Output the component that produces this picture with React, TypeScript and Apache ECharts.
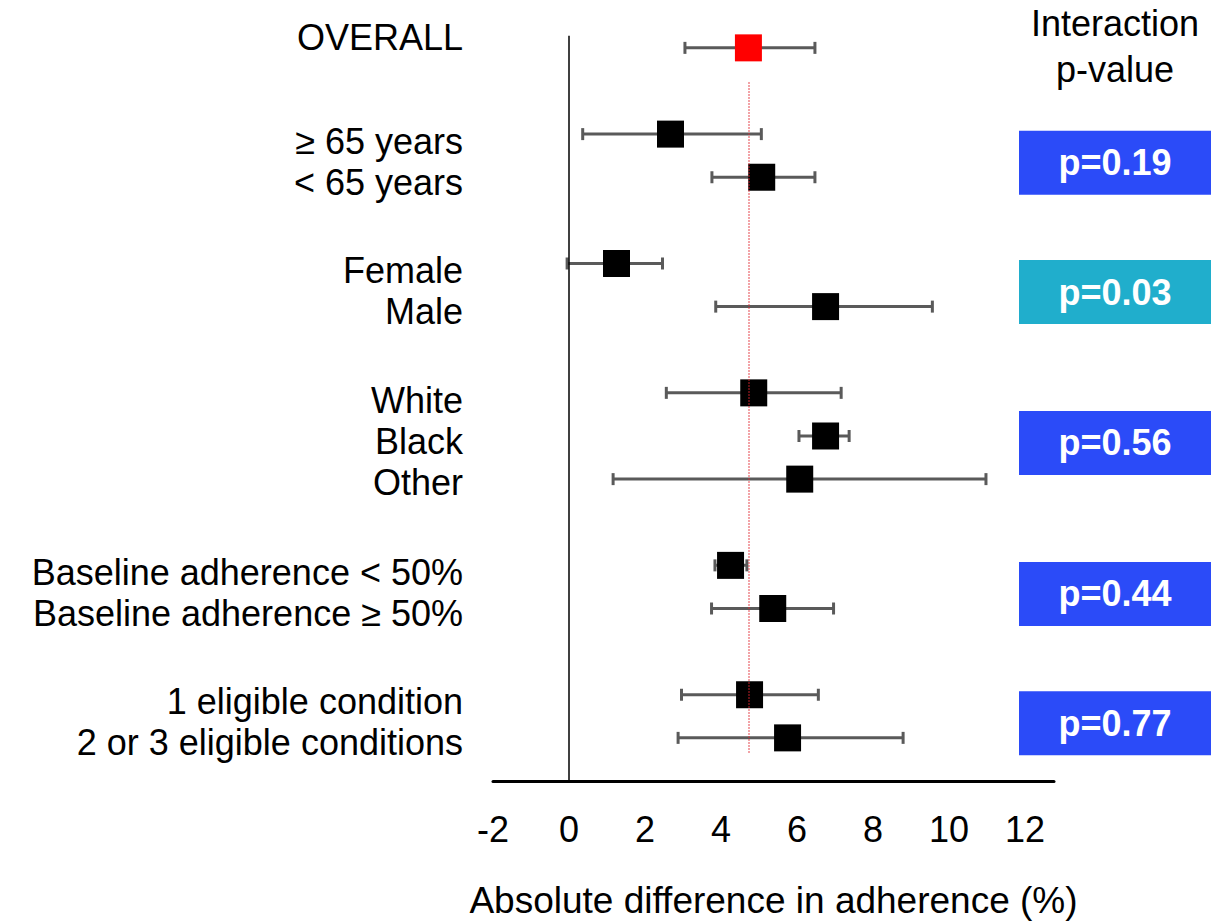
import React, { useEffect, useRef } from "react";
import * as echarts from "echarts";

// ---- Data ----
const rowLabels = [
  "OVERALL",
  "≥ 65 years",
  "< 65 years",
  "Female",
  "Male",
  "White",
  "Black",
  "Other",
  "Baseline adherence < 50%",
  "Baseline adherence ≥ 50%",
  "1 eligible condition",
  "2 or 3 eligible conditions",
];
const groupSizes = [1, 2, 2, 3, 2, 2];
const estimates = [4.72, 2.67, 5.07, 1.25, 6.75, 4.86, 6.75, 6.07, 4.25, 5.36, 4.75, 5.75];
const lowerCI = [3.05, 0.36, 3.76, -0.05, 3.86, 2.56, 6.05, 1.16, 3.84, 3.75, 2.96, 2.87];
const upperCI = [6.47, 5.06, 6.47, 2.46, 9.56, 7.16, 7.37, 10.97, 4.68, 6.96, 6.56, 8.79];
const interactionP = [0.19, 0.03, 0.56, 0.44, 0.77];
const xAxisTitle = "Absolute difference in adherence (%)";
const pHeader = "Interaction\np-value";

const FONT = "'Liberation Sans', Arial, sans-serif";

// row index of each estimate: one blank row between groups
const rowIndex: number[] = [];
const groupOf: number[] = [];
{
  let i = 0;
  groupSizes.forEach((n, g) => {
    for (let k = 0; k < n; k++) {
      rowIndex.push(i + g);
      groupOf.push(g);
      i++;
    }
  });
}
const groupCenters = groupSizes.map((_, g) => {
  const rs = rowIndex.filter((_, i) => groupOf[i] === g);
  return rs.reduce((a, b) => a + b, 0) / rs.length;
});
const groupTexts = groupSizes.map((_, g) =>
  rowLabels.filter((_, i) => groupOf[i] === g).join("\n")
);
const lastRow = rowIndex[rowIndex.length - 1];

export default function App() {
  const ref = useRef<HTMLDivElement>(null);
  useEffect(() => {
    if (!ref.current) return;
    const chart = echarts.init(ref.current, undefined, { renderer: "svg", width: 1212, height: 924 });
    const overall = estimates[0];
    const option: any = {
      animation: false,
      backgroundColor: "#ffffff",
      textStyle: { fontFamily: FONT },
      grid: { left: 493, width: 561, top: 26.3, height: 760.7, containLabel: false },
      xAxis: {
        type: "value",
        min: -2,
        max: 12.76,
        interval: 2,
        axisLine: { show: true, onZero: false, lineStyle: { color: "#000", width: 3 } },
        axisTick: { show: false },
        splitLine: { show: false },
        axisLabel: {
          color: "#000",
          fontSize: 36,
          fontFamily: FONT,
          margin: 30,
          formatter: (v: number) => (Math.abs(v / 2 - Math.round(v / 2)) < 1e-9 ? String(v) : ""),
        },
        name: xAxisTitle,
        nameLocation: "middle",
        nameGap: 101,
        nameTextStyle: { color: "#000", fontSize: 37, fontFamily: FONT },
      },
      yAxis: {
        type: "value",
        inverse: true,
        min: -0.5,
        max: lastRow + 1,
        interval: 0.5,
        axisLine: { show: false, onZero: false },
        axisTick: { show: false },
        splitLine: { show: false },
        axisLabel: {
          color: "#000",
          fontSize: 36,
          fontFamily: FONT,
          lineHeight: 41,
          align: "right",
          margin: 30,
          padding: [12, 0, 0, 0],
          rich: {
            head: { fontSize: 36, fontFamily: FONT, color: "#000", lineHeight: 41, padding: [0, 0, 32, 0] },
          },
          formatter: (v: number) => {
            const k = groupCenters.findIndex((c) => Math.abs(c - v) < 1e-6);
            if (k < 0) return "";
            return k === 0 ? `{head|${groupTexts[k]}}` : groupTexts[k];
          },
        },
      },
      series: [
        {
          type: "custom",
          z: 2,
          silent: true,
          encode: { x: [0, 1], y: 2 },
          data: rowIndex.map((r, i) => [lowerCI[i], upperCI[i], r]),
          renderItem: (_params: any, api: any) => {
            const y = api.value(2);
            const p1 = api.coord([api.value(0), y]);
            const p2 = api.coord([api.value(1), y]);
            const h = 6;
            const style = { stroke: "#5a5a5a", lineWidth: 3, fill: "none" };
            return {
              type: "group",
              children: [
                { type: "line", shape: { x1: p1[0], y1: p1[1], x2: p2[0], y2: p2[1] }, style },
                { type: "line", shape: { x1: p1[0], y1: p1[1] - h, x2: p1[0], y2: p1[1] + h }, style },
                { type: "line", shape: { x1: p2[0], y1: p2[1] - h, x2: p2[0], y2: p2[1] + h }, style },
              ],
            };
          },
        },
        {
          type: "scatter",
          z: 3,
          symbol: "rect",
          symbolSize: 27,
          silent: true,
          data: rowIndex.map((r, i) => ({
            value: [estimates[i], r],
            itemStyle: { color: i === 0 ? "#ff0000" : "#000000", opacity: 1 },
          })),
        },
        {
          type: "line",
          z: 5,
          data: [],
          silent: true,
          markLine: {
            silent: true,
            symbol: ["none", "none"],
            label: { show: false },
            data: [
              [
                { coord: [0, -0.28], lineStyle: { color: "#000", width: 1.5, type: "solid" } },
                { coord: [0, lastRow + 1] },
              ],
              [
                { coord: [overall, 0.8], lineStyle: { color: "rgba(225,40,50,0.75)", width: 1.5, type: "dotted" } },
                { coord: [overall, lastRow + 0.38] },
              ],
            ],
          },
        },
      ],
    };
    chart.setOption(option);

    // p-value boxes and header beside the plot, placed with the chart's own y scale
    const boxCx = 1115;
    const boxW = 192;
    const boxH = 64;
    const graphics: any[] = [];
    const headerY = chart.convertToPixel({ yAxisIndex: 0 }, rowIndex[0]) as number;
    graphics.push({
      type: "text",
      x: boxCx,
      y: headerY - 1,
      style: {
        text: pHeader,
        fill: "#000",
        font: `36px ${FONT}`,
        lineHeight: 46,
        align: "center",
        verticalAlign: "middle",
      },
    });
    interactionP.forEach((p, k) => {
      const cy = (chart.convertToPixel({ yAxisIndex: 0 }, groupCenters[k + 1]) as number) + 7;
      graphics.push({
        type: "rect",
        shape: { x: boxCx - boxW / 2, y: cy - boxH / 2, width: boxW, height: boxH },
        style: { fill: p < 0.05 ? "#20AECC" : "#2B4BF8" },
      });
      graphics.push({
        type: "text",
        x: boxCx,
        y: cy,
        style: {
          text: "p=" + p.toFixed(2),
          fill: "#fff",
          font: `bold 36px ${FONT}`,
          align: "center",
          verticalAlign: "middle",
        },
      });
    });
    chart.setOption({ graphic: graphics });

    return () => chart.dispose();
  }, []);
  return (
    <div
      ref={ref}
      style={{ position: "absolute", left: 0, top: 0, width: 1212, height: 924 }}
    />
  );
}
